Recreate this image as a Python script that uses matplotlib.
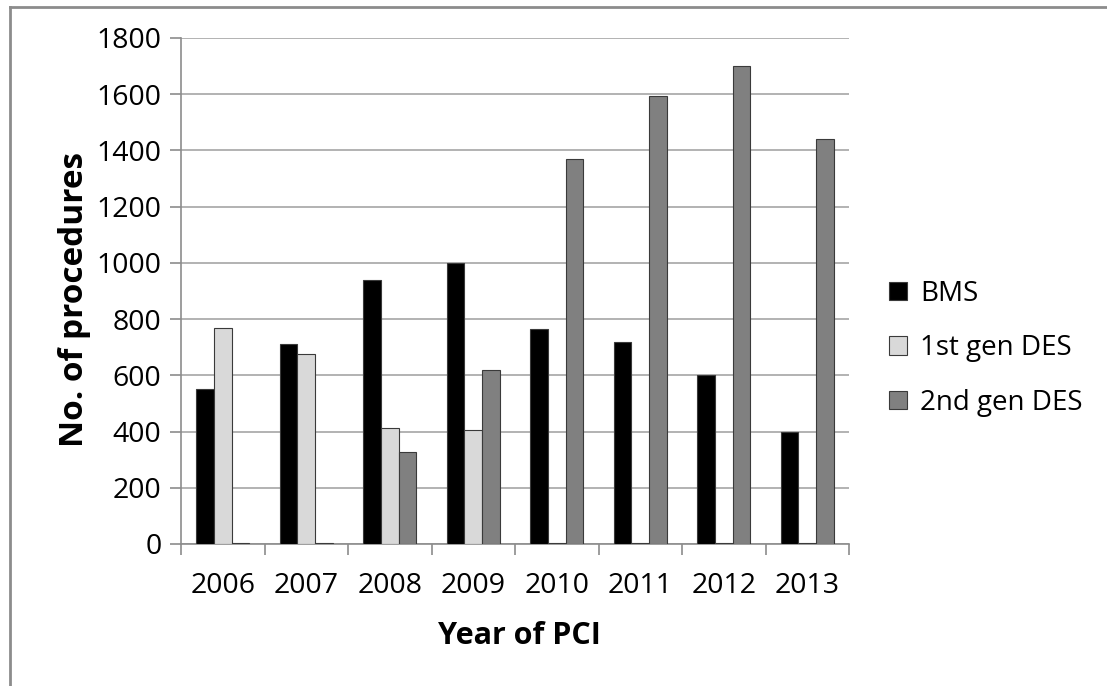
import numpy as np
import matplotlib
matplotlib.use("Agg")
import matplotlib.pyplot as plt
from matplotlib.lines import Line2D

plt.rcParams['font.family'] = ['Open Sans', 'DejaVu Sans']

# data
years = ['2006', '2007', '2008', '2009', '2010', '2011', '2012', '2013']
bms = [550, 713, 940, 1000, 766, 717, 602, 398]
gen1 = [767, 675, 414, 406, 3, 3, 3, 3]
gen2 = [4, 3, 328, 618, 1371, 1593, 1702, 1442]
series_names = ['BMS', '1st gen DES', '2nd gen DES']
colors = ['#000000', '#d9d9d9', '#808080']

W, H = 1107, 686
fig = plt.figure(figsize=(W / 100, H / 100), dpi=100)
ax = fig.add_axes([181 / W, 1 - 544 / H, (849 - 181) / W, (544 - 38) / H])

# outer frame (only top/left edges visible in the reference)
fig.lines.append(Line2D([10 / W, 10 / W], [0, 1 - 7 / H], transform=fig.transFigure,
                        color='#8c8c8c', linewidth=2))
fig.lines.append(Line2D([10 / W, 1], [1 - 7 / H, 1 - 7 / H], transform=fig.transFigure,
                        color='#8c8c8c', linewidth=2))

x = np.arange(len(years))
w = 0.21
for i, vals in enumerate([bms, gen1, gen2]):
    ax.bar(x + (i - 1) * w, vals, width=w, color=colors[i],
           edgecolor='#3a3a3a', linewidth=0.8, label=series_names[i], zorder=3)

ax.set_xlim(-0.5, len(years) - 0.5)
ax.set_ylim(0, 1800)
ax.set_yticks(range(0, 1801, 200))
ax.yaxis.grid(True, color='#a6a6a6', linewidth=1.2, zorder=0)
ax.set_axisbelow(True)

ax.set_xticks(x)
ax.set_xticklabels(years)
ax.set_xticks(np.arange(-0.5, len(years)), minor=True)
ax.tick_params(axis='x', which='major', length=0, labelsize=20.5, pad=20)
ax.tick_params(axis='x', which='minor', length=8, color='#8c8c8c', width=1.2)
ax.tick_params(axis='y', length=8, color='#8c8c8c', width=1.2, labelsize=20.5, pad=6)

for s in ['top', 'right']:
    ax.spines[s].set_visible(False)
for s in ['left', 'bottom']:
    ax.spines[s].set_color('#8c8c8c')
    ax.spines[s].set_linewidth(1.2)

ax.set_ylabel('No. of procedures', fontsize=24, fontweight='bold')
ax.yaxis.set_label_coords(-0.135, 0.484)
ax.set_xlabel('Year of PCI', fontsize=22, fontweight='bold')
ax.xaxis.set_label_coords(0.507, -0.152)

ax.legend(loc='center left', bbox_to_anchor=(1.023, 0.387), frameon=False,
          fontsize=20, handlelength=0.65, handleheight=0.65, handletextpad=0.45,
          labelspacing=0.95)

fig.savefig('out.png', dpi=100)
